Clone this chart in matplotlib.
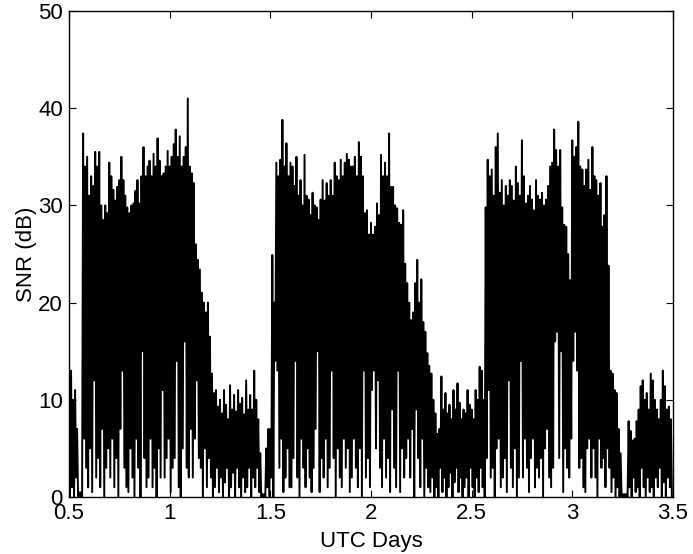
import numpy as np
import matplotlib
matplotlib.use('Agg')
import matplotlib.pyplot as plt

plt.rcParams['font.family'] = ['Liberation Sans', 'DejaVu Sans']

# SNR record, one row per 0.1 day, samples every 0.01 day
day_start = 0.5
day_step = 0.01

# local maxima of the SNR within each sample slot (dB)
snr_high = [
    8, 13, 10, 11, 7, 0.5, 0.5, 37.4, 34, 35,
    31, 33, 32, 35.5, 34, 35.5, 30, 28.5, 30, 29.2,
    34.4, 33, 31.6, 30.5, 31.9, 32.6, 35, 32.6, 31, 29.8,
    29.2, 30, 30.2, 31.5, 32.6, 30.2, 33, 36, 33, 34,
    34.6, 33, 35.3, 34, 36.9, 34.6, 33, 33.3, 34, 35.6,
    34, 35, 36.3, 37.8, 35, 37.1, 34, 35, 36, 41,
    34, 33.3, 32.3, 26, 24.4, 23.4, 21, 20, 19, 20,
    16.5, 12.7, 10.7, 11, 9.3, 10, 8.6, 11, 9.5, 8,
    11.5, 9, 10.5, 8.8, 11, 9.6, 10.2, 8.5, 12, 9,
    10.5, 9, 13, 10, 8, 4.5, 0.3, 0.3, 5, 7,
    7, 24.9, 20, 34.4, 33, 34.7, 38.8, 34, 36.4, 33,
    34.4, 34, 32, 35, 31, 32.6, 30, 35.2, 31, 30.6,
    29, 31.3, 30, 29.8, 28.5, 30.6, 32.6, 30.5, 32.3, 31,
    32.6, 31, 34.4, 33, 32.6, 34.7, 33, 34.4, 35.3, 34.7,
    34, 34, 35, 33, 36.5, 35, 33, 29.2, 29.5, 27,
    28.2, 27, 27.8, 30.2, 29, 35.2, 33, 34.4, 33, 37.4,
    31.9, 31.9, 30, 29.7, 28.2, 28, 29.5, 24, 22, 20,
    18.2, 19, 22, 24.4, 20, 22.4, 18, 17, 14.8, 13.5,
    12.7, 10, 8.6, 6.5, 7, 12.4, 9, 10.7, 8.6, 9.5,
    8, 11, 9, 11.7, 9.7, 8, 9, 8.6, 11, 9.5,
    9, 8, 11, 10, 13.4, 13, 10, 29.8, 34.7, 33,
    33.7, 31, 36, 37.4, 31.3, 32.6, 30, 32, 31, 32.6,
    32, 30.5, 34, 32.3, 31, 36.7, 33, 30.2, 31, 32,
    30.6, 29.5, 32.6, 31, 30.6, 31.3, 30, 30.6, 32, 34,
    34.4, 37.8, 35.7, 34, 35.7, 29.8, 28, 27.8, 25, 22.3,
    36.7, 35, 36, 38.6, 34, 33.7, 32, 33.7, 34.7, 31.6,
    36, 33, 32.6, 31, 32.3, 27.8, 29, 33, 23.8, 13,
    12.7, 11, 10.7, 7, 4.5, 0.3, 0.3, 0.3, 7.8, 6.8,
    5.8, 6, 7.8, 9, 11.4, 12, 10, 10.7, 9, 12.7,
    12, 10, 9, 8, 10, 13, 11.4, 9, 9.3, 8,
]

# local minima of the SNR half a slot later (dB)
snr_low = [
    0, 1, 0, 2, 0, 0, 0, 6, 3, 1,
    5, 0.5, 12, 2, 4, 1, 7, 0, 3, 5,
    2, 6, 1, 4, 0, 7, 13, 3, 1, 0.5,
    5, 2, 0, 6, 3, 0, 15, 4, 1, 2,
    6, 1, 3, 0, 5, 2, 11, 2, 4, 6,
    0.5, 3, 4, 14, 1, 0, 5, 16, 3, 2,
    7, 2, 6, 12, 4, 3, 0, 5, 1, 4,
    2, 0, 1, 3, 0.5, 2, 0, 1.5, 3, 0,
    1, 2.5, 0, 3, 1, 0, 2, 0.5, 1, 3,
    0, 2, 1, 3, 0.5, 0, 0, 0, 1, 0,
    2, 0, 14, 13, 3, 6, 0.5, 2, 5, 1,
    1, 4, 14, 2, 0, 6, 3, 1, 5, 2,
    0.5, 3, 7, 15, 0.5, 4, 2, 6, 1, 3,
    13, 4, 0, 5, 2, 1, 6, 3, 5, 0.5,
    2, 6, 3, 1, 5, 0, 13, 2, 4, 1,
    11, 13, 5, 12, 3, 1, 6, 2, 4, 0.5,
    9, 3, 1, 13, 0.5, 5, 2, 4, 6, 2,
    7, 0, 9, 4, 1, 6, 0, 3, 1, 0.5,
    2, 0, 1, 0, 3, 0.5, 2, 0, 1, 2.5,
    0, 1.5, 3, 0.5, 2, 0, 1, 2, 0, 3,
    1, 0, 2, 0.5, 3, 1, 0, 4, 11, 2,
    3, 0, 5, 6, 1, 2, 4, 0.5, 12, 3,
    1, 5, 0, 2, 14, 2, 6, 3, 0.5, 4,
    6, 1, 3, 2, 4, 0, 5, 7, 2, 1,
    3, 16, 17, 4, 15, 0.5, 5, 3, 2, 6,
    14, 17, 13, 3, 4, 1, 0.5, 5, 6, 2,
    5, 2, 0, 6, 3, 4, 1, 5, 3, 0.5,
    2, 0, 1, 0, 0, 0, 0, 0, 1, 0,
    2, 0.5, 1, 0, 3, 1, 0, 2, 0.5, 1,
    0, 2, 1, 3, 0, 1.5, 0, 2, 1, 0,
]

x_ticks = [0.5, 1, 1.5, 2, 2.5, 3, 3.5]
y_ticks = [0, 10, 20, 30, 40, 50]

n = len(snr_high)
t_high = day_start + day_step * np.arange(n)
t_low = t_high + day_step / 2

t = np.empty(2 * n)
snr = np.empty(2 * n)
t[0::2] = t_high
t[1::2] = t_low
snr[0::2] = snr_high
snr[1::2] = snr_low

fig = plt.figure(figsize=(6.93, 5.54), dpi=100)
ax = fig.add_axes([0.0996, 0.1029, 0.8714, 0.8773])
ax.plot(t, snr, color='black', linewidth=1.4)

ax.set_xlim(0.5, 3.5)
ax.set_ylim(0, 50)
ax.set_xticks(x_ticks)
ax.set_xticklabels(['0.5', '1', '1.5', '2', '2.5', '3', '3.5'])
ax.set_yticks(y_ticks)
ax.tick_params(direction='in', length=5, width=0.8, labelsize=16,
               top=True, right=True, pad=4.5)
for s in ax.spines.values():
    s.set_linewidth(1.0)

ax.set_xlabel('UTC Days', fontsize=16, labelpad=5)
ax.set_ylabel('SNR (dB)', fontsize=16, labelpad=1)

fig.savefig('out.png', dpi=100)
